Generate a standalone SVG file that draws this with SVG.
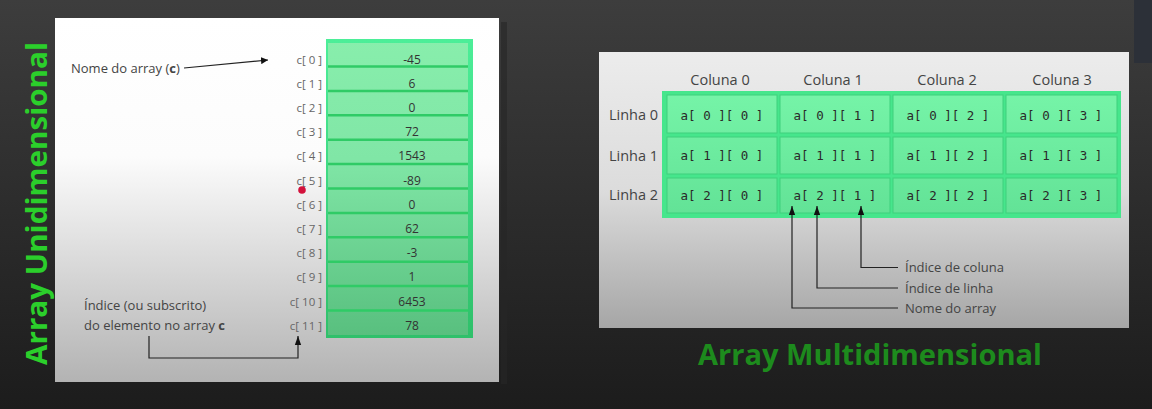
<svg xmlns="http://www.w3.org/2000/svg" width="1152" height="409" viewBox="0 0 1152 409">
<defs>
<linearGradient id="bg" x1="0" y1="0" x2="0" y2="1"><stop offset="0" stop-color="#3d3d3d"/><stop offset="1" stop-color="#1c1c1c"/></linearGradient>
<linearGradient id="pl" gradientUnits="userSpaceOnUse" x1="0" y1="18" x2="0" y2="382"><stop offset="0" stop-color="#ffffff"/><stop offset="0.38" stop-color="#fcfcfc"/><stop offset="1" stop-color="#b3b3b3"/></linearGradient>
<linearGradient id="pr" gradientUnits="userSpaceOnUse" x1="0" y1="52" x2="0" y2="328"><stop offset="0" stop-color="#ececec"/><stop offset="0.5" stop-color="#dcdcdc"/><stop offset="1" stop-color="#a6a6a6"/></linearGradient>
<linearGradient id="cellL" gradientUnits="userSpaceOnUse" x1="0" y1="40" x2="0" y2="338"><stop offset="0" stop-color="#88eeac"/><stop offset="0.4" stop-color="#80e6a6"/><stop offset="1" stop-color="#58bf7e"/></linearGradient>
<linearGradient id="frameL" gradientUnits="userSpaceOnUse" x1="0" y1="40" x2="0" y2="338"><stop offset="0" stop-color="#4cee98"/><stop offset="1" stop-color="#2fc06a"/></linearGradient>
<linearGradient id="cellR" gradientUnits="userSpaceOnUse" x1="0" y1="91" x2="0" y2="218"><stop offset="0" stop-color="#76f4a8"/><stop offset="1" stop-color="#62e296"/></linearGradient>
<marker id="ah" viewBox="0 0 10 10" refX="10" refY="5" markerWidth="7" markerHeight="7" markerUnits="userSpaceOnUse" orient="auto"><path d="M0,0 L10,5 L0,10 z" fill="#111"/></marker>
<marker id="ah2" viewBox="0 0 10 10" refX="10" refY="5" markerWidth="9" markerHeight="9" markerUnits="userSpaceOnUse" orient="auto"><path d="M0,1.5 L10,5 L0,8.5 z" fill="#111"/></marker>
</defs>
<style>
.t{font-family:"Open Sans","Noto Sans",sans-serif;fill:#444;}
.lab{font-size:11.5px;fill:#666;text-anchor:end;}
.val{font-size:12px;fill:#333;text-anchor:middle;}
.hd{font-size:14.5px;fill:#444;text-anchor:middle;}
.rl{font-size:14.5px;fill:#444;}
.mono{font-family:"DejaVu Sans Mono","Liberation Mono",monospace;font-size:12.5px;fill:#2a2a2a;text-anchor:middle;}
.note{font-size:13px;fill:#444;}
.ttl{font-family:"Open Sans","Noto Sans",sans-serif;font-weight:700;}
.div{stroke:#2fcb66;stroke-width:2.5;}
.cr{fill:url(#cellR);stroke:#3fd07c;stroke-width:1;}
.hl{fill:none;stroke:#9afac0;stroke-width:1;}
.ln{fill:none;stroke:#222;stroke-width:1.2;}
</style>
<rect x="0" y="0" width="1152" height="409" fill="url(#bg)"/>
<rect x="1134" y="0" width="18" height="63" fill="#2c3038"/>

<!-- Left panel -->
<g id="panel-left">
<rect x="501" y="22" width="6" height="362" fill="#262626" opacity="0.6"/>
<rect x="55" y="18" width="444" height="364" fill="url(#pl)"/>
</g>
<text class="ttl" x="0" y="0" font-size="28" fill="#2bcf2b" transform="translate(47,203.5) rotate(-90)" text-anchor="middle" textLength="323" lengthAdjust="spacingAndGlyphs">Array Unidimensional</text>

<g id="array-1d">
<rect x="326" y="39" width="147" height="299" fill="url(#frameL)"/>
<rect x="328" y="43" width="140" height="292" fill="url(#cellL)"/>
<g class="div">
<line x1="328" y1="66.5" x2="468" y2="66.5"/>
<line x1="328" y1="90.9" x2="468" y2="90.9"/>
<line x1="328" y1="115.3" x2="468" y2="115.3"/>
<line x1="328" y1="139.7" x2="468" y2="139.7"/>
<line x1="328" y1="164.1" x2="468" y2="164.1"/>
<line x1="328" y1="188.5" x2="468" y2="188.5"/>
<line x1="328" y1="212.9" x2="468" y2="212.9"/>
<line x1="328" y1="237.3" x2="468" y2="237.3"/>
<line x1="328" y1="261.7" x2="468" y2="261.7"/>
<line x1="328" y1="286.1" x2="468" y2="286.1"/>
<line x1="328" y1="310.5" x2="468" y2="310.5"/>
</g>
<g class="t val">
<text x="412" y="63.5">-45</text>
<text x="412" y="87.7">6</text>
<text x="412" y="111.9">0</text>
<text x="412" y="136.1">72</text>
<text x="412" y="160.3">1543</text>
<text x="412" y="184.5">-89</text>
<text x="412" y="208.7">0</text>
<text x="412" y="232.9">62</text>
<text x="412" y="257.1">-3</text>
<text x="412" y="281.3">1</text>
<text x="412" y="305.5">6453</text>
<text x="412" y="329.7">78</text>
</g>
<g class="t lab">
<text x="322" y="63.5">c[ 0 ]</text>
<text x="322" y="87.7">c[ 1 ]</text>
<text x="322" y="111.9">c[ 2 ]</text>
<text x="322" y="136.1">c[ 3 ]</text>
<text x="322" y="160.3">c[ 4 ]</text>
<text x="322" y="184.5">c[ 5 ]</text>
<text x="322" y="208.7">c[ 6 ]</text>
<text x="322" y="232.9">c[ 7 ]</text>
<text x="322" y="257.1">c[ 8 ]</text>
<text x="322" y="281.3">c[ 9 ]</text>
<text x="322" y="305.5">c[ 10 ]</text>
<text x="322" y="329.7">c[ 11 ]</text>
</g>
</g>
<circle cx="302" cy="190" r="3.8" fill="#d3123c"/>

<g id="note-name-1d">
<text class="t note" x="71" y="73" font-size="12.5">Nome do array (<tspan font-weight="700">c</tspan>)</text>
</g>
<g id="note-index-1d">
<text class="t note" x="84" y="310" font-size="12.5">Índice (ou subscrito)</text>
<text class="t note" x="84" y="330" font-size="12.5">do elemento no array <tspan font-weight="700">c</tspan></text>
</g>

<!-- Right panel -->
<g id="panel-right">
<rect x="599" y="52" width="530" height="276" fill="url(#pr)"/>
</g>

<g id="array-2d">
<rect x="662" y="91" width="459" height="127" fill="#46e68c"/>
<rect class="cr" x="667" y="95" width="110" height="38"/>
<rect class="cr" x="780" y="95" width="110" height="38"/>
<rect class="cr" x="893" y="95" width="110" height="38"/>
<rect class="cr" x="1006" y="95" width="111" height="38"/>
<rect class="cr" x="667" y="137" width="110" height="37"/>
<rect class="cr" x="780" y="137" width="110" height="37"/>
<rect class="cr" x="893" y="137" width="110" height="37"/>
<rect class="cr" x="1006" y="137" width="111" height="37"/>
<rect class="cr" x="667" y="178" width="110" height="35"/>
<rect class="cr" x="780" y="178" width="110" height="35"/>
<rect class="cr" x="893" y="178" width="110" height="35"/>
<rect class="cr" x="1006" y="178" width="111" height="35"/>
<g class="mono">
<text x="722" y="119.5">a[ 0 ][ 0 ]</text>
<text x="835" y="119.5">a[ 0 ][ 1 ]</text>
<text x="948" y="119.5">a[ 0 ][ 2 ]</text>
<text x="1061" y="119.5">a[ 0 ][ 3 ]</text>
<text x="722" y="160">a[ 1 ][ 0 ]</text>
<text x="835" y="160">a[ 1 ][ 1 ]</text>
<text x="948" y="160">a[ 1 ][ 2 ]</text>
<text x="1061" y="160">a[ 1 ][ 3 ]</text>
<text x="722" y="199.5">a[ 2 ][ 0 ]</text>
<text x="835" y="199.5">a[ 2 ][ 1 ]</text>
<text x="948" y="199.5">a[ 2 ][ 2 ]</text>
<text x="1061" y="199.5">a[ 2 ][ 3 ]</text>
</g>
<g class="t hd">
<text x="720" y="85">Coluna 0</text>
<text x="833" y="85">Coluna 1</text>
<text x="947" y="85">Coluna 2</text>
<text x="1062" y="85">Coluna 3</text>
</g>
<g class="t rl">
<text x="609" y="120">Linha 0</text>
<text x="609" y="161">Linha 1</text>
<text x="609" y="200">Linha 2</text>
</g>
</g>

<g id="notes-2d">
<text class="t note" x="905" y="272">Índice de coluna</text>
<text class="t note" x="905" y="292.5">Índice de linha</text>
<text class="t note" x="905" y="313">Nome do array</text>
</g>

<text class="ttl" x="698" y="365" font-size="28" fill="#1d8b1d" textLength="344" lengthAdjust="spacingAndGlyphs">Array Multidimensional</text>

<g id="connectors">
<line class="ln" x1="184" y1="68" x2="268" y2="60" marker-end="url(#ah)"/>
<polyline class="ln" points="149,336 149,358 298,358 298,336" marker-end="url(#ah2)"/>
<polyline class="ln" points="898,267.5 861,267.5 861,206" marker-end="url(#ah2)"/>
<polyline class="ln" points="898,288 817,288 817,206" marker-end="url(#ah2)"/>
<polyline class="ln" points="898,308 792,308 792,206" marker-end="url(#ah2)"/>
</g>
</svg>
